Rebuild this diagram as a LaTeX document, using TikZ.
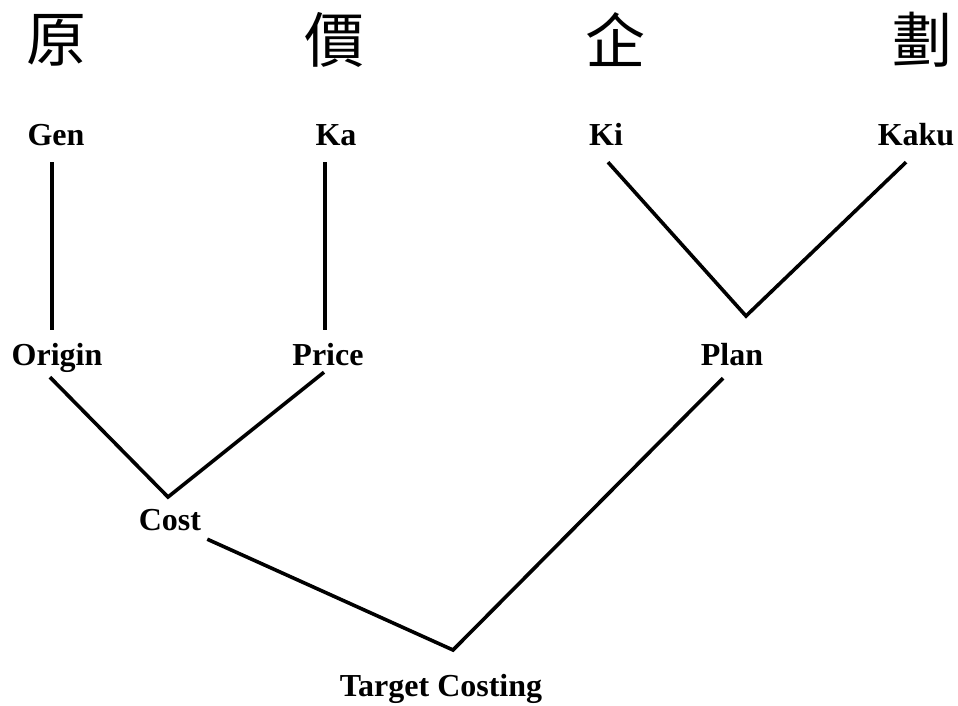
\documentclass[tikz,border=0pt]{standalone}
\usepackage{fontspec}
\setmainfont{Liberation Serif}
\newfontfamily\cjk{Noto Sans CJK TC}
\usetikzlibrary{calc}

\begin{document}
\begin{tikzpicture}[
		x=1pt, y=-1pt,
		kanji/.style	={ font=\cjk\fontsize{60}{64}\selectfont,
			inner sep=0pt
		},
		word/.style		={ font=\bfseries\fontsize{32}{36}\selectfont,
			anchor=base, inner sep=0pt,
			text height=22pt, text depth=7pt
		},
		link/.style		={ line width=3.6pt, draw=black,
			line join=miter, line cap=butt
		},
	]
	\useasboundingbox (0,0) rectangle (958,705);

	\def\kanjilist{	1/56/原, 2/334/價, 3/615/企, 4/922/劃}

	% declare kanji row
	\foreach \name/\px/\ch in \kanjilist {
			\node (zi\name) [kanji] at (\px,40) {\ch};
		}

	% declare reading and meaning nodes
	\node (gen)    [word] at (56,145)  {Gen};
	\node (ka)     [word] at (336,145) {Ka};
	\node (ki)     [word] at (606,145) {Ki};
	\node (kaku)   [word] at (916,145) {Kaku};
	\node (origin) [word] at (57,365)  {Origin};
	\node (price)  [word] at (328,365) {Price};
	\node (plan)   [word] at (732,365) {Plan};
	\node (cost)   [word] at (170,530) {Cost};
	\node (target) [word] at (441,696) {Target Costing};

	% junction points
	\coordinate (jplan) at (746,316);
	\coordinate (jcost) at (168,497);
	\coordinate (jtarget) at (453,650);

	% draw links
	\draw [link] ([shift={(-4,10)}]gen.south) -- ([shift={(-5,-13)}]origin.north);
	\draw [link] ([shift={(-11,10)}]ka.south) -- ([shift={(-3,-13)}]price.north);
	\draw [link] ([shift={(2,10)}]ki.south) -- (jplan) -- ([shift={(-10,10)}]kaku.south);
	\draw [link] ([shift={(-7,5)}]origin.south) -- (jcost) -- ([shift={(-4,0)}]price.south);
	\draw [link] ([shift={(6,2)}]cost.south east) -- (jtarget) -- ([shift={(-9,6)}]plan.south);

\end{tikzpicture}
\end{document}
